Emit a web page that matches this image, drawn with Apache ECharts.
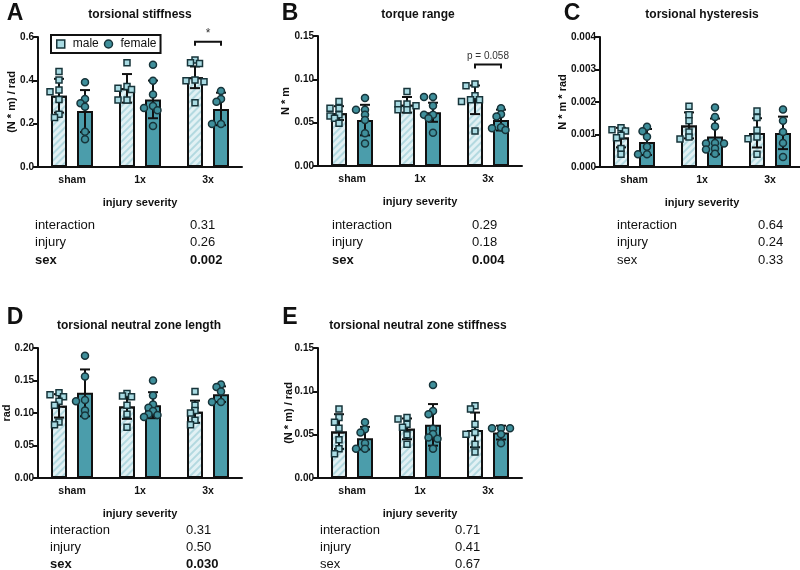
<!DOCTYPE html>
<html><head><meta charset="utf-8">
<script src="https://cdn.jsdelivr.net/npm/echarts/dist/echarts.min.js"></script>
<style>html,body{margin:0;padding:0;background:#fff}#c{width:800px;height:570px}</style>
</head><body><div id="c"></div><script>
// ---------- DATA ----------
const categories = ['sham', '1x', '3x'];
const statNames = ['interaction', 'injury', 'sex'];

// A: torsional stiffness
const stiffMaleMean = [0.329, 0.363, 0.414];
const stiffMaleSD = [0.078, 0.066, 0.050];
const stiffFemaleMean = [0.258, 0.312, 0.268];
const stiffFemaleSD = [0.097, 0.087, 0.075];
const stiffMalePts = [[0.441, 0.401, 0.355, 0.347, 0.312, 0.243, 0.229], [0.481, 0.371, 0.363, 0.358, 0.309, 0.309], [0.494, 0.481, 0.478, 0.401, 0.398, 0.394, 0.297]];
const stiffFemalePts = [[0.391, 0.314, 0.294, 0.278, 0.163, 0.128], [0.472, 0.398, 0.335, 0.281, 0.272, 0.262, 0.189], [0.351, 0.314, 0.301, 0.198, 0.198]];
const stiffP = ['0.31', '0.26', '0.002'];
const stiffBold = [false, false, true];
const stiffSig = { cat: 2, y: 0.578, label: '*' };

// B: torque range
const torqMaleMean = [0.061, 0.0706, 0.0764];
const torqMaleSD = [0.008, 0.009, 0.0165];
const torqFemaleMean = [0.053, 0.062, 0.053];
const torqFemaleSD = [0.0176, 0.011, 0.012];
const torqMalePts = [[0.0744, 0.0667, 0.0667, 0.059, 0.0578, 0.0551, 0.0493], [0.086, 0.0714, 0.0714, 0.0694, 0.0648, 0.0648], [0.0946, 0.0927, 0.081, 0.0764, 0.0764, 0.0744, 0.0403]];
const torqFemalePts = [[0.0784, 0.0648, 0.0648, 0.059, 0.0531, 0.0377, 0.026], [0.0795, 0.0795, 0.0694, 0.059, 0.059, 0.0551, 0.0384], [0.0667, 0.0598, 0.057, 0.0446, 0.0435, 0.0415]];
const torqP = ['0.29', '0.18', '0.004'];
const torqBold = [false, false, true];
const torqSig = { cat: 2, y: 0.117, label: 'p = 0.058' };

// C: torsional hysteresis
const hystMaleMean = [0.000905, 0.00128, 0.00105];
const hystMaleSD = [0.0003, 0.0004, 0.00045];
const hystFemaleMean = [0.00077, 0.00094, 0.00105];
const hystFemaleSD = [0.0004, 0.00055, 0.0005];
const hystMalePts = [[0.00121, 0.00115, 0.00111, 0.00098, 0.0009, 0.00057, 0.00039], [0.00187, 0.00161, 0.00142, 0.00108, 0.00092, 0.00086], [0.00172, 0.00152, 0.00113, 0.00092, 0.00087, 0.00039]];
const hystFemalePts = [[0.00124, 0.0011, 0.00093, 0.00062, 0.00039, 0.00039], [0.00183, 0.00154, 0.00125, 0.00074, 0.00072, 0.00072, 0.00057, 0.00054, 0.00041], [0.00177, 0.00142, 0.00108, 0.00074, 0.00031]];
const hystP = ['0.64', '0.24', '0.33'];
const hystBold = [false, false, false];

// D: torsional neutral zone length
const nzlMaleMean = [0.111, 0.110, 0.102];
const nzlMaleSD = [0.018, 0.019, 0.017];
const nzlFemaleMean = [0.131, 0.112, 0.129];
const nzlFemaleSD = [0.036, 0.020, 0.012];
const nzlMalePts = [[0.131, 0.128, 0.125, 0.118, 0.112, 0.086, 0.082], [0.130, 0.126, 0.125, 0.112, 0.098, 0.078], [0.133, 0.112, 0.104, 0.100, 0.089, 0.082]];
const nzlFemalePts = [[0.188, 0.156, 0.120, 0.118, 0.104, 0.096], [0.150, 0.127, 0.113, 0.108, 0.103, 0.098, 0.097, 0.094], [0.1437, 0.140, 0.133, 0.117, 0.117]];
const nzlP = ['0.31', '0.50', '0.030'];
const nzlBold = [false, false, true];

// E: torsional neutral zone stiffness
const nzsMaleMean = [0.0536, 0.0567, 0.0555];
const nzsMaleSD = [0.020, 0.012, 0.020];
const nzsFemaleMean = [0.046, 0.0613, 0.0524];
const nzsFemaleSD = [0.013, 0.024, 0.008];
const nzsMalePts = [[0.0797, 0.0697, 0.0644, 0.0575, 0.044, 0.0337, 0.028], [0.0697, 0.0682, 0.062, 0.0586, 0.0498, 0.039], [0.0835, 0.0797, 0.062, 0.0524, 0.0506, 0.039, 0.0299]];
const nzsFemalePts = [[0.0644, 0.0563, 0.0524, 0.0402, 0.0337, 0.0337], [0.1072, 0.0774, 0.0736, 0.0567, 0.0509, 0.0467, 0.0452, 0.0337], [0.0575, 0.0575, 0.0575, 0.0506, 0.0402]];
const nzsP = ['0.71', '0.41', '0.67'];
const nzsBold = [false, false, false];

// ---------- STYLE / LAYOUT ----------
const FONT = '"Liberation Sans", Arial, Helvetica, sans-serif';
const INK = '#111';
const maleBarColor = '#e2f1f4', maleHatch = '#b3d9e0';
const femaleBarColor = '#4b9dab';
const maleMarker = '#a9dbe3', femaleMarker = '#3f8f9b', markerBorder = '#17343a';

const panels = [
  { letter: 'A', title: 'torsional stiffness', yName: '(N * m) / rad', max: 0.6, interval: 0.2, dec: 1,
    mM: stiffMaleMean, mS: stiffMaleSD, fM: stiffFemaleMean, fS: stiffFemaleSD, mP: stiffMalePts, fP: stiffFemalePts,
    p: stiffP, bold: stiffBold, sig: stiffSig,
    box: [38, 37, 204, 130], nameGap: 21, letterPos: [15, 14], titlePos: [140, 15], statPos: [35, 190, 225, 17.5] },
  { letter: 'B', title: 'torque range', yName: 'N * m', max: 0.15, interval: 0.05, dec: 2,
    mM: torqMaleMean, mS: torqMaleSD, fM: torqFemaleMean, fS: torqFemaleSD, mP: torqMalePts, fP: torqFemalePts,
    p: torqP, bold: torqBold, sig: torqSig,
    box: [318, 36, 204, 130], nameGap: 27, letterPos: [290, 14], titlePos: [418, 15], statPos: [332, 472, 225, 17.5] },
  { letter: 'C', title: 'torsional hysteresis', yName: 'N * m * rad', max: 0.004, interval: 0.001, dec: 3,
    mM: hystMaleMean, mS: hystMaleSD, fM: hystFemaleMean, fS: hystFemaleSD, mP: hystMalePts, fP: hystFemalePts,
    p: hystP, bold: hystBold, sig: null,
    box: [600, 37, 204, 130], nameGap: 32, letterPos: [572, 14], titlePos: [702, 15], statPos: [617, 758, 225, 17.5] },
  { letter: 'D', title: 'torsional neutral zone length', yName: 'rad', max: 0.2, interval: 0.05, dec: 2,
    mM: nzlMaleMean, mS: nzlMaleSD, fM: nzlFemaleMean, fS: nzlFemaleSD, mP: nzlMalePts, fP: nzlFemalePts,
    p: nzlP, bold: nzlBold, sig: null,
    box: [38, 348, 204, 130], nameGap: 26, letterPos: [15, 318], titlePos: [139, 326], statPos: [50, 186, 530, 17] },
  { letter: 'E', title: 'torsional neutral zone stiffness', yName: '(N * m) / rad', max: 0.15, interval: 0.05, dec: 2,
    mM: nzsMaleMean, mS: nzsMaleSD, fM: nzsFemaleMean, fS: nzsFemaleSD, mP: nzsMalePts, fP: nzsFemalePts,
    p: nzsP, bold: nzsBold, sig: null,
    box: [318, 348, 204, 130], nameGap: 24, letterPos: [290, 318], titlePos: [418, 326], statPos: [320, 455, 530, 17] }
];

// simple beeswarm: horizontal pixel offsets so markers don't overlap
function swarm(vals, pxPerUnit, step, minDist) {
  const order = vals.map((v, i) => i).sort((a, b) => vals[b] - vals[a]);
  const placed = [], out = new Array(vals.length);
  for (const i of order) {
    const y = vals[i] * pxPerUnit;
    let k = 0, x = 0;
    while (k < 20) {
      const c = k === 0 ? 0 : (k % 2 ? -Math.ceil(k / 2) : Math.ceil(k / 2)) * step;
      if (placed.every(p => Math.hypot(p.x - c, p.y - y) >= minDist)) { x = c; break; }
      k++;
    }
    placed.push({ x, y }); out[i] = x;
  }
  return out;
}

const BAR_W = 16, HALF_SPACING = 13;

function errRender(params, api) {
  const x = api.value(0), m = api.value(1), s = api.value(2);
  const t = api.coord([x, m + s]), b = api.coord([x, m - s]);
  const st = { stroke: INK, lineWidth: 2 };
  return { type: 'group', children: [
    { type: 'line', shape: { x1: t[0], y1: t[1], x2: b[0], y2: b[1] }, style: st },
    { type: 'line', shape: { x1: t[0] - 5, y1: t[1], x2: t[0] + 5, y2: t[1] }, style: st },
    { type: 'line', shape: { x1: b[0] - 5, y1: b[1], x2: b[0] + 5, y2: b[1] }, style: st }
  ] };
}

const option = {
  animation: false, backgroundColor: '#fff',
  grid: [], xAxis: [], yAxis: [], series: [], graphic: [],
  legend: {
    left: 51, top: 35, orient: 'horizontal', padding: [3, 4, 3, 5],
    borderColor: INK, borderWidth: 2, borderRadius: 0, itemGap: 5,
    itemWidth: 8, itemHeight: 8,
    textStyle: { fontFamily: FONT, fontSize: 12, color: INK, padding: [0, 0, 0, 3] },
    data: [
      { name: 'male', icon: 'rect', itemStyle: { color: maleMarker, borderColor: markerBorder, borderWidth: 1.5 } },
      { name: 'female', icon: 'circle', itemStyle: { color: femaleMarker, borderColor: markerBorder, borderWidth: 1.5 } }
    ],
    selectedMode: false
  }
};

panels.forEach((p, g) => {
  const [L, T, W, H] = p.box;
  option.grid.push({ left: L, top: T, width: W, height: H, containLabel: false, outerBoundsMode: 'none' });
  option.xAxis.push({
    gridIndex: g, type: 'category', data: categories,
    axisLine: { onZero: false, lineStyle: { color: INK, width: 2 } },
    axisTick: { alignWithLabel: true, length: 5, lineStyle: { color: INK, width: 2 } },
    axisLabel: { color: INK, fontFamily: FONT, fontWeight: 'bold', fontSize: 10.5, margin: 8 },
    name: 'injury severity', nameLocation: 'middle', nameGap: 30, nameMoveOverlap: false,
    nameTextStyle: { color: INK, fontFamily: FONT, fontWeight: 'bold', fontSize: 11 }
  });
  option.xAxis.push({ gridIndex: g, type: 'value', min: -0.5, max: 2.5, show: false, axisLine: { onZero: false } });
  option.yAxis.push({
    gridIndex: g, type: 'value', min: 0, max: p.max, interval: p.interval,
    axisLine: { show: true, onZero: false, lineStyle: { color: INK, width: 2 } },
    axisTick: { show: true, length: 5, lineStyle: { color: INK, width: 2 } },
    splitLine: { show: false },
    axisLabel: { color: INK, fontFamily: FONT, fontWeight: 'bold', fontSize: 10, margin: 4,
      formatter: v => v.toFixed(p.dec) },
    name: p.yName, nameLocation: 'middle', nameGap: p.nameGap, nameRotate: 90, nameMoveOverlap: false,
    nameTextStyle: { color: INK, fontFamily: FONT, fontWeight: 'bold', fontSize: 11 }
  });
  const xc = 2 * g, xv = 2 * g + 1;
  const catW = W / 3, off = HALF_SPACING / catW, ppu = H / p.max;

  option.series.push({
    type: 'bar', name: 'male bar', xAxisIndex: xc, yAxisIndex: g, data: p.mM,
    barWidth: BAR_W, barGap: '62.5%', z: 2,
    itemStyle: { color: maleBarColor, borderColor: INK, borderWidth: 2,
      decal: { symbol: 'rect', symbolSize: 1, dashArrayX: [1, 0], dashArrayY: [1.5, 2.5], rotation: -Math.PI / 4, color: maleHatch } }
  });
  option.series.push({
    type: 'bar', name: 'female bar', xAxisIndex: xc, yAxisIndex: g, data: p.fM,
    barWidth: BAR_W, barGap: '62.5%', z: 2,
    itemStyle: { color: femaleBarColor, borderColor: INK, borderWidth: 2 }
  });
  option.series.push({
    type: 'custom', name: 'male sd', xAxisIndex: xv, yAxisIndex: g, z: 3, renderItem: errRender,
    data: p.mM.map((m, i) => [i - off, m, p.mS[i]])
  });
  option.series.push({
    type: 'custom', name: 'female sd', xAxisIndex: xv, yAxisIndex: g, z: 3, renderItem: errRender,
    data: p.fM.map((m, i) => [i + off, m, p.fS[i]])
  });
  const mData = [], fData = [];
  p.mP.forEach((vals, i) => { const j = swarm(vals, ppu, 4.5, 5); vals.forEach((v, k) => mData.push([i - off + j[k] / catW, v])); });
  p.fP.forEach((vals, i) => { const j = swarm(vals, ppu, 4.5, 5); vals.forEach((v, k) => fData.push([i + off + j[k] / catW, v])); });
  option.series.push({
    type: 'scatter', name: 'male', xAxisIndex: xv, yAxisIndex: g, z: 4, symbol: 'rect', symbolSize: 6,
    itemStyle: { color: maleMarker, borderColor: markerBorder, borderWidth: 1.5, opacity: 1 }, data: mData
  });
  option.series.push({
    type: 'scatter', name: 'female', xAxisIndex: xv, yAxisIndex: g, z: 4, symbol: 'circle', symbolSize: 7,
    itemStyle: { color: femaleMarker, borderColor: markerBorder, borderWidth: 1.5, opacity: 1 }, data: fData
  });
  if (p.sig) {
    const sg = p.sig;
    option.series.push({
      type: 'custom', name: 'sig', xAxisIndex: xv, yAxisIndex: g, z: 5, clip: false,
      data: [[sg.cat, sg.y]],
      renderItem: (params, api) => {
        const a = api.coord([api.value(0) - off, api.value(1)]);
        const b = api.coord([api.value(0) + off, api.value(1)]);
        const isStar = sg.label === '*';
        return { type: 'group', children: [
          { type: 'polyline', shape: { points: [[a[0], a[1] + 4], [a[0], a[1]], [b[0], a[1]], [b[0], a[1] + 4]] },
            style: { stroke: INK, lineWidth: 2, fill: null } },
          { type: 'text', x: (a[0] + b[0]) / 2, y: a[1] - (isStar ? 2 : 8),
            style: { text: sg.label, fill: '#333', font: (isStar ? '12px ' : '10px ') + FONT, align: 'center', verticalAlign: isStar ? 'bottom' : 'middle' } }
        ] };
      }
    });
  }
  // letters, titles, stats
  option.graphic.push({ type: 'text', x: p.letterPos[0], y: p.letterPos[1],
    style: { text: p.letter, font: 'bold 23px ' + FONT, fill: INK, align: 'center', verticalAlign: 'middle' } });
  option.graphic.push({ type: 'text', x: p.titlePos[0], y: p.titlePos[1],
    style: { text: p.title, font: 'bold 12px ' + FONT, fill: INK, align: 'center', verticalAlign: 'middle' } });
  statNames.forEach((s, r) => {
    const w = p.bold[r] ? 'bold ' : '';
    const y = p.statPos[2] + r * p.statPos[3];
    option.graphic.push({ type: 'text', x: p.statPos[0], y,
      style: { text: s, font: w + '13px ' + FONT, fill: INK, align: 'left', verticalAlign: 'middle' } });
    option.graphic.push({ type: 'text', x: p.statPos[1], y,
      style: { text: p.p[r], font: w + '13px ' + FONT, fill: INK, align: 'left', verticalAlign: 'middle' } });
  });
});

const chart = echarts.init(document.getElementById('c'), null, { renderer: 'canvas', width: 800, height: 570 });
chart.setOption(option);
</script></body></html>
